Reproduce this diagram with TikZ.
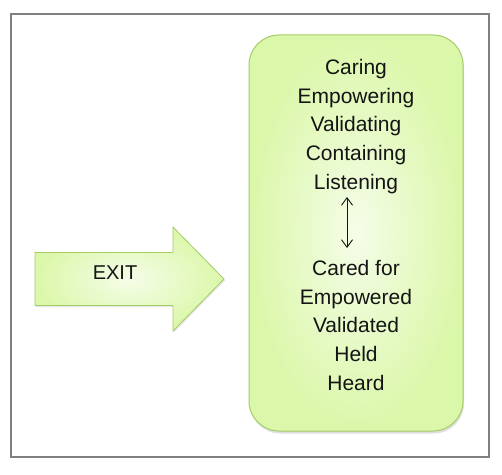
\documentclass[tikz,border=0pt]{standalone}
\usepackage{fontspec}
\setmainfont{Liberation Sans}
\usetikzlibrary{positioning}
\usetikzlibrary{shadows}
\usetikzlibrary{arrows.meta}
\tikzset{>={Straight Barb[length=7.5pt,width=11pt]}}
\definecolor{leafedge}{RGB}{219,247,170}
\definecolor{leafmid}{RGB}{245,253,232}
\definecolor{leafline}{RGB}{166,204,104}
\definecolor{framegray}{RGB}{128,128,128}
\definecolor{inkgray}{RGB}{20,20,20}

\begin{document}
\begin{tikzpicture}[x=1pt,y=1pt,
	leaf/.style={draw=leafline, line width=1pt, inner color=leafmid, outer color=leafedge},
	words/.style={align=center, text=inkgray, inner sep=0pt, font=\fontsize{21}{28.75}\selectfont}]
		\useasboundingbox (0,0) rectangle (502,474);
		\draw[framegray, line width=1.2pt] (11,17) rectangle (489,460);
		% the rounded panel
		\node[leaf, rounded corners=30pt, minimum width=214pt, minimum height=396pt,
		  drop shadow={shadow xshift=1pt, shadow yshift=-2.5pt, opacity=.25}] (panel) at (356,241) {};
		% the arrow
		\draw[leaf, line width=.8pt, drop shadow={shadow xshift=1pt, shadow yshift=-1.5pt, opacity=.2}]
		  (35,221.5) -- (173,221.5) -- (173,247) -- (224,195) -- (173,143) -- (173,168.5) -- (35,168.5) -- cycle;
		\node[text=inkgray, inner sep=0pt, font=\fontsize{20}{24}\selectfont] (exit) at (115,201) {EXIT};
		\node[words] (giving) at (356,347.5) {Caring\\Empowering\\Validating\\Containing\\Listening};
		\node[words] (receiving) at (356,148.7) {Cared for\\Empowered\\Validated\\Held\\Heard};
		\coordinate (up) at (347,277);
		\coordinate (down) at (347,226);
		\draw[<->, inkgray, line width=.9pt] (up) -- (down);
	\end{tikzpicture}
\end{document}
